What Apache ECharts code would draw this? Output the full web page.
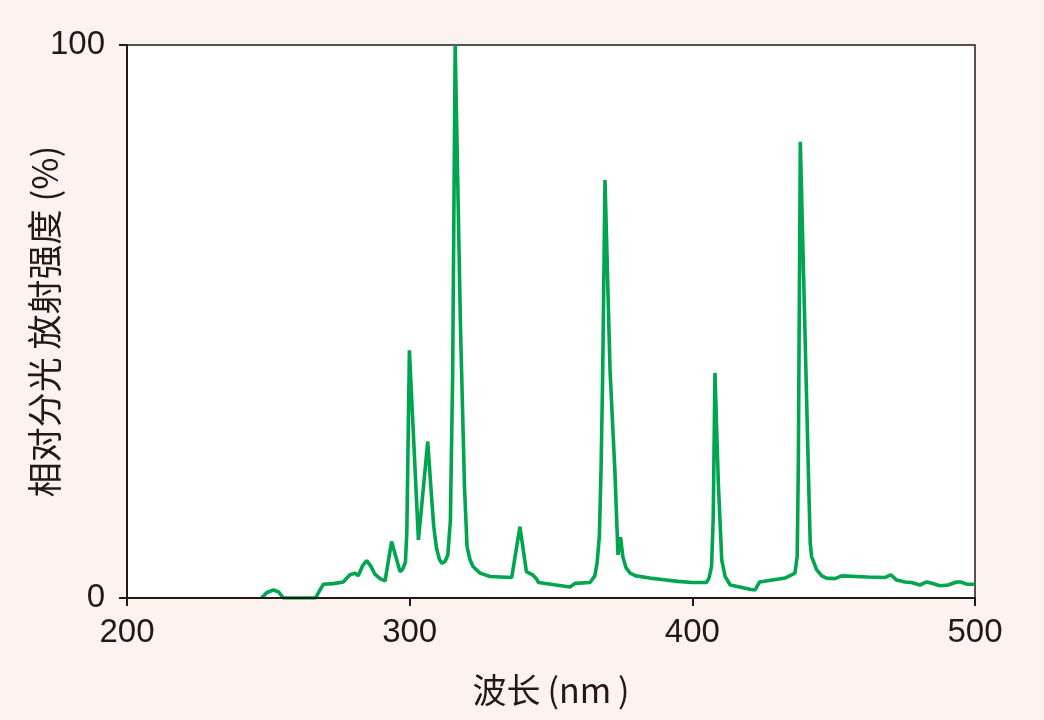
<!DOCTYPE html>
<html>
<head>
<meta charset="utf-8">
<script src="https://cdn.jsdelivr.net/npm/echarts@6/dist/echarts.min.js"></script>
<style>
  html, body { margin: 0; padding: 0; background: #fcf2ee; }
  #chart { width: 1044px; height: 720px; }
</style>
</head>
<body>
<div id="chart"></div>
<script>
// Wavelength (nm)
const wavelengths = [
  247.6, 249.5, 251.8, 253.6, 255.3, 266.7, 268.0, 269.5, 273.0, 276.5,
  277.8, 278.9, 280.7, 281.8, 283.3, 284.8, 286.2, 287.7, 289.5, 291.3,
  293.6, 296.6, 297.6, 298.5, 299.0, 299.9, 303.1, 306.4, 307.5, 308.5,
  309.5, 310.5, 311.4, 312.5, 313.5, 314.4, 315.2, 316.1, 318.0, 319.4,
  320.3, 321.3, 322.4, 324.9, 328.4, 336.1, 339.0, 341.3, 343.5, 344.8,
  345.6, 356.7, 358.5, 363.8, 365.5, 366.3, 367.1, 367.7, 368.3, 369.1,
  370.9, 372.6, 373.7, 374.6, 375.4, 376.5, 378.0, 380.0, 385.0, 390.0,
  395.0, 400.0, 405.0, 405.9, 406.8, 407.4, 408.0, 409.2, 410.4, 411.6,
  413.4, 420.4, 422.2, 423.8, 432.8, 436.3, 437.1, 437.5, 438.2, 441.0,
  441.7, 442.2, 444.0, 445.8, 447.5, 450.5, 452.8, 462.0, 468.0, 470.2,
  472.3, 475.2, 477.5, 480.5, 482.9, 484.7, 487.6, 490.5, 493.5, 495.0,
  497.0, 500.0
];
// Relative spectral radiant intensity (%)
const intensity = [
  0, 1.0, 1.45, 1.1, 0, 0, 1.2, 2.5, 2.6, 2.9,
  3.6, 4.2, 4.5, 4.0, 5.8, 6.75, 5.8, 4.3, 3.5, 3.1,
  10.2, 4.75, 5.3, 6.5, 12, 44.8, 10.5, 28.3, 20, 13,
  9, 7, 6.3, 6.6, 7.8, 14, 40, 100, 48.5, 20,
  9.3, 7, 5.7, 4.5, 3.9, 3.7, 12.9, 4.75, 4.2, 3.5,
  2.8, 2.0, 2.65, 2.8, 4.0, 6.3, 11.1, 23, 41, 75.6,
  41, 23, 7.8, 11, 7.5, 5.5, 4.5, 4.0, 3.6, 3.3,
  3.0, 2.8, 2.8, 3.6, 5.7, 14.7, 40.7, 20.7, 6.9, 3.9,
  2.35, 1.6, 1.45, 2.9, 3.6, 4.5, 7.5, 24, 82.5, 24,
  10, 7.5, 5.1, 4.0, 3.6, 3.5, 4.0, 3.8, 3.7, 4.2,
  3.25, 2.9, 2.8, 2.35, 2.9, 2.65, 2.2, 2.35, 2.9, 2.9,
  2.5, 2.5
];
const xTicks = [200, 300, 400, 500];
const yTicks = [0, 100];

const textColor = '#231815';
const chart = echarts.init(document.getElementById('chart'));
chart.setOption({
  backgroundColor: '#fcf2ee',
  animation: false,
  grid: {
    left: 127, right: 69, top: 45, bottom: 122,
    show: true, backgroundColor: '#ffffff',
    borderColor: textColor, borderWidth: 1.5
  },
  xAxis: {
    type: 'value', min: xTicks[0], max: xTicks[xTicks.length - 1], interval: 100,
    z: 10,
    name: '波长\u2009(nm\u2009)', nameLocation: 'middle', nameGap: 75, nameMoveOverlap: false,
    nameTextStyle: { fontFamily: 'Noto Sans CJK SC', fontSize: 34, color: textColor },
    axisLine: { show: true, lineStyle: { color: textColor, width: 2 } },
    axisTick: { show: true, length: 8, inside: false, lineStyle: { color: textColor, width: 2 } },
    axisLabel: { fontFamily: 'Liberation Sans', fontSize: 33, color: textColor, margin: 18 },
    splitLine: { show: false }
  },
  yAxis: {
    type: 'value', min: yTicks[0], max: yTicks[yTicks.length - 1], interval: 100,
    z: 10,
    name: '相对分光 放射强度 (%)', nameLocation: 'middle', nameGap: 65, nameMoveOverlap: false,
    nameTextStyle: { fontFamily: 'Noto Sans CJK SC', fontSize: 35, color: textColor },
    axisLine: { show: true, lineStyle: { color: textColor, width: 2 } },
    axisTick: { show: true, length: 8, inside: false, lineStyle: { color: textColor, width: 2 } },
    axisLabel: { fontFamily: 'Liberation Sans', fontSize: 33, color: textColor, margin: 22 },
    splitLine: { show: false }
  },
  series: [{
    type: 'line',
    data: wavelengths.map((w, i) => [w, intensity[i]]),
    showSymbol: false,
    smooth: false,
    lineStyle: { color: '#00a54f', width: 3.6 },
    itemStyle: { color: '#00a54f' }
  }]
});
</script>
</body>
</html>
